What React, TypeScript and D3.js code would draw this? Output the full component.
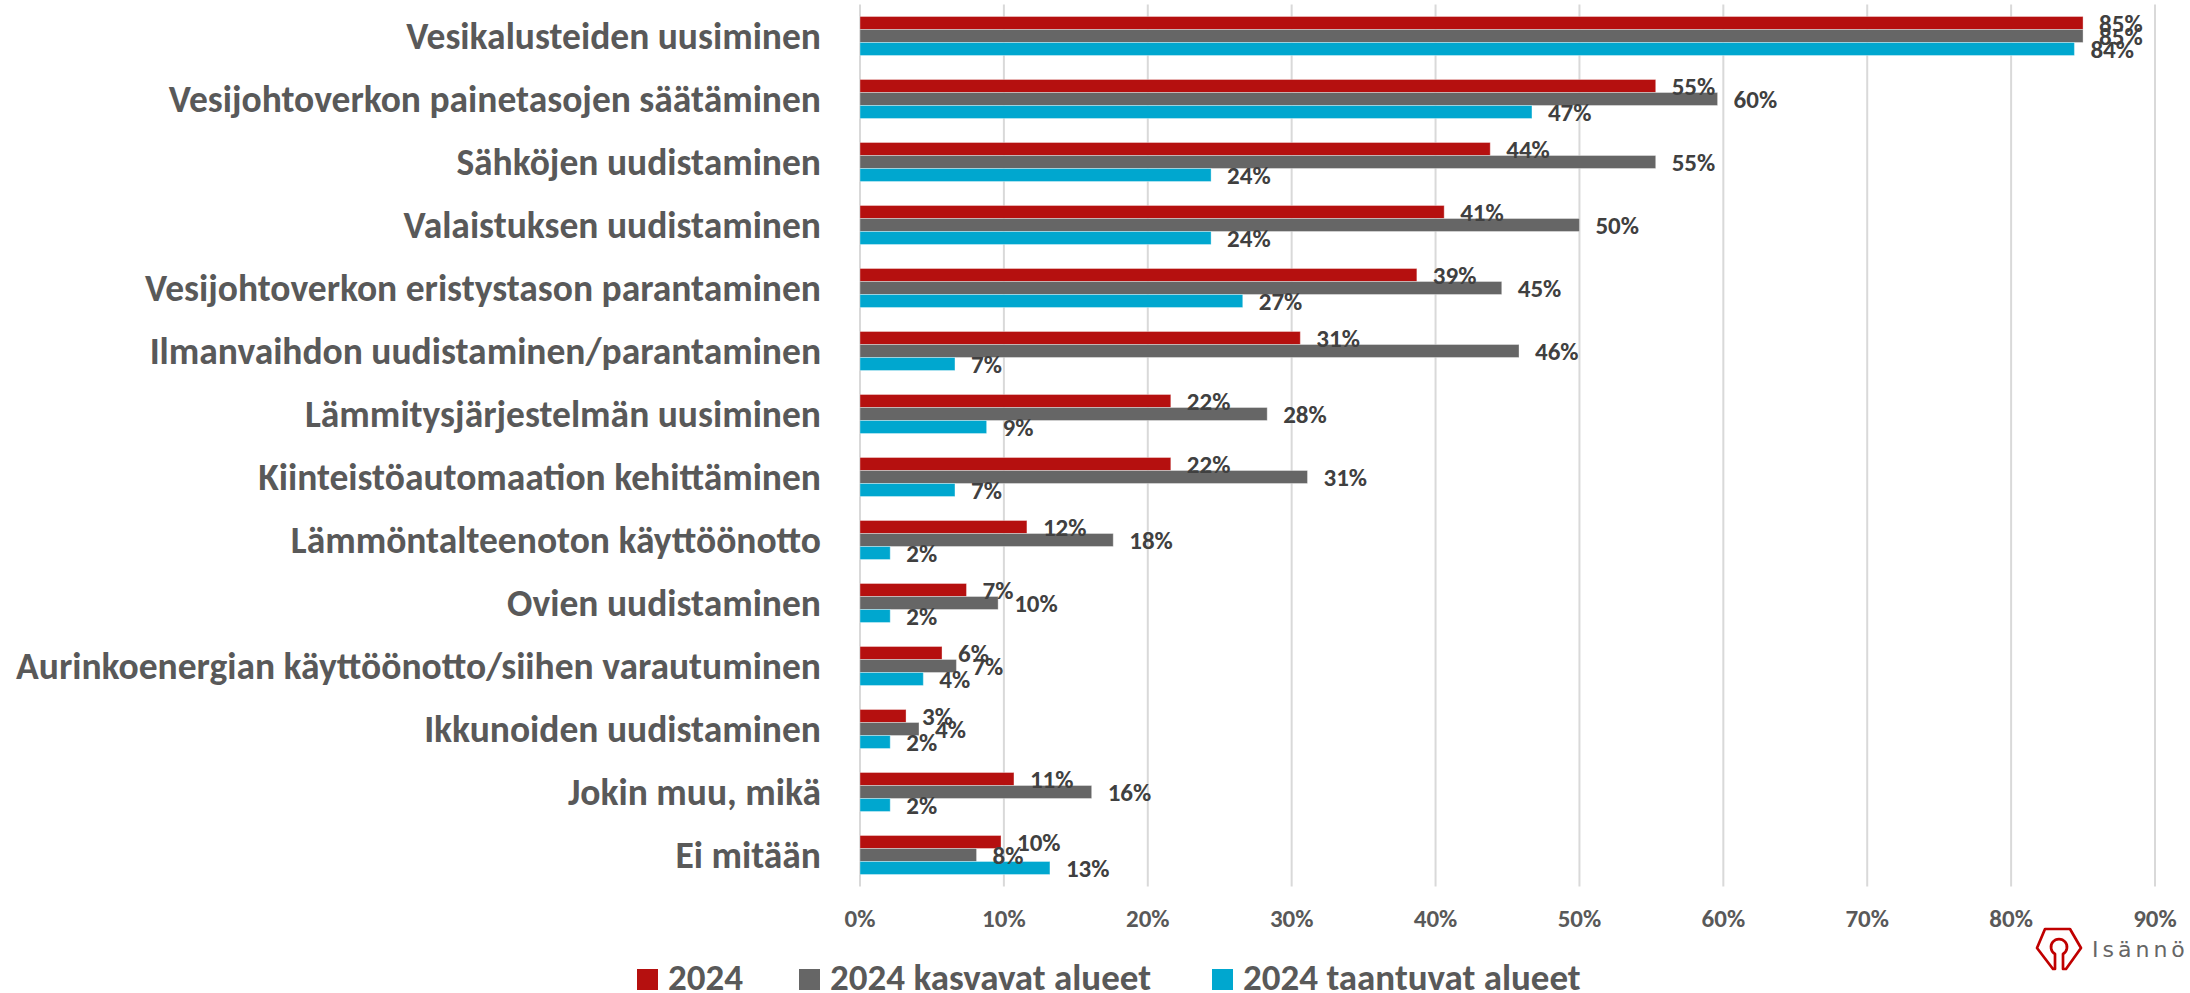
import React from 'react';
import * as d3 from 'd3';

const categories = [
  'Vesikalusteiden uusiminen',
  'Vesijohtoverkon painetasojen säätäminen',
  'Sähköjen uudistaminen',
  'Valaistuksen uudistaminen',
  'Vesijohtoverkon eristystason parantaminen',
  'Ilmanvaihdon uudistaminen/parantaminen',
  'Lämmitysjärjestelmän uusiminen',
  'Kiinteistöautomaation kehittäminen',
  'Lämmöntalteenoton käyttöönotto',
  'Ovien uudistaminen',
  'Aurinkoenergian käyttöönotto/siihen varautuminen',
  'Ikkunoiden uudistaminen',
  'Jokin muu, mikä',
  'Ei mitään',
];

// percentages
const values2024 = [85.0, 55.3, 43.8, 40.6, 38.7, 30.6, 21.6, 21.6, 11.6, 7.4, 5.7, 3.2, 10.7, 9.8];
const valuesKasvavat = [85.0, 59.6, 55.3, 50.0, 44.6, 45.8, 28.3, 31.1, 17.6, 9.6, 6.7, 4.1, 16.1, 8.1];
const valuesTaantuvat = [84.4, 46.7, 24.4, 24.4, 26.6, 6.6, 8.8, 6.6, 2.1, 2.1, 4.4, 2.1, 2.1, 13.2];

const seriesNames = ['2024', '2024 kasvavat alueet', '2024 taantuvat alueet'];
const seriesColors = ['#B5100F', '#666666', '#00A7CF'];
const xTicks = [0, 10, 20, 30, 40, 50, 60, 70, 80, 90];

const FONT = "Calibri, Carlito, Lato, 'Open Sans', sans-serif";

export default function App() {
  const width = 2190;
  const height = 993;
  const plot = { left: 860, right: 2155, top: 4.5, bottom: 886.5 };

  const series = [values2024, valuesKasvavat, valuesTaantuvat];

  const x = d3.scaleLinear().domain([0, 90]).range([plot.left, plot.right]);
  const y = d3.scaleBand<string>().domain(categories).range([plot.top, plot.bottom]);
  const bw = y.bandwidth();
  const groupH = 39;
  const inner = d3
    .scaleBand<number>()
    .domain([0, 1, 2])
    .range([(bw - groupH) / 2, (bw + groupH) / 2]);

  // legend key left edges
  const legendX = [637, 799, 1212];

  return (
    <svg
      width={width}
      height={height}
      style={{ position: 'absolute', left: 0, top: 0, background: '#fff', fontFamily: FONT }}
    >
      {/* grid */}
      {xTicks.map((t) => (
        <line
          key={t}
          x1={x(t)}
          x2={x(t)}
          y1={plot.top}
          y2={plot.bottom}
          stroke="#D9D9D9"
          strokeWidth={2}
        />
      ))}

      {/* bars */}
      {categories.map((c, i) => (
        <g key={c} transform={`translate(0,${y(c)})`}>
          {series.map((vals, s) => (
            <rect
              key={s}
              x={x(0)}
              y={inner(s)}
              width={x(vals[i]) - x(0)}
              height={inner.bandwidth()}
              fill={seriesColors[s]}
              stroke="#ffffff"
              strokeOpacity={0.35}
              strokeWidth={1}
            />
          ))}
          {series.map((vals, s) => (
            <text
              key={'l' + s}
              x={x(vals[i]) + 16}
              y={(inner(s) ?? 0) + inner.bandwidth() / 2}
              dominantBaseline="central"
              fontSize={25}
              fontWeight="bold"
              fill="#404040"
            >
              {Math.round(vals[i])}%
            </text>
          ))}
          <text
            x={821}
            y={bw / 2}
            textAnchor="end"
            dominantBaseline="central"
            fontSize={37.5}
            fontWeight="bold"
            fill="#595959"
          >
            {c}
          </text>
        </g>
      ))}

      {/* x tick labels */}
      {xTicks.map((t) => (
        <text
          key={'t' + t}
          x={x(t)}
          y={918}
          textAnchor="middle"
          dominantBaseline="central"
          fontSize={25}
          fontWeight="bold"
          fill="#595959"
        >
          {t}%
        </text>
      ))}

      {/* legend */}
      {seriesNames.map((n, s) => (
        <g key={n} transform={`translate(${legendX[s]},990)`}>
          <rect x={0} y={-21} width={21} height={21} fill={seriesColors[s]} />
          <text x={31} y={0} fontSize={37} fontWeight="bold" fill="#595959">
            {n}
          </text>
        </g>
      ))}

      {/* logo */}
      <g transform="translate(2059,949)">
        <path
          d="M-4,20 L-6,20 L-22,-1 L-14,-20 L11,-20 L22,-1 L7,20 L4,20 L4,5 A8,8 0 1 0 -4,5 Z"
          fill="none"
          stroke="#C00000"
          strokeWidth={2.7}
          strokeLinejoin="round"
        />
        <text
          x={33}
          y={8}
          fontSize={22}
          letterSpacing={4}
          fill="#666666"
          fontFamily="'DejaVu Sans', sans-serif"
        >
          Isännöintiliitto
        </text>
      </g>
    </svg>
  );
}
